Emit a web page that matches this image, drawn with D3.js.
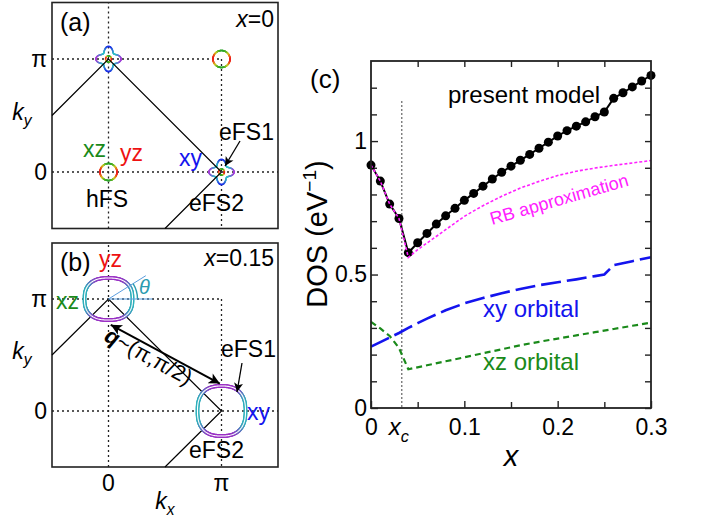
<!DOCTYPE html>
<html>
<head>
<meta charset="utf-8">
<script src="https://d3js.org/d3.v7.min.js"></script>
<style>
body { margin: 0; background: #fff; }
svg { font-family: "Liberation Sans", Arial, sans-serif; }
</style>
</head>
<body>
<svg id="fig" width="705" height="521"></svg>
<script>
// ---- panel (c) data ----
var xModel = [0, 0.01, 0.02, 0.03, 0.04, 0.05, 0.06, 0.07, 0.08, 0.09, 0.10, 0.11, 0.12, 0.13, 0.14, 0.15,
              0.16, 0.17, 0.18, 0.19, 0.20, 0.21, 0.22, 0.23, 0.24, 0.25, 0.26, 0.27, 0.28, 0.29, 0.30];
var dosModel = [0.910, 0.850, 0.764, 0.710, 0.582, 0.619, 0.654, 0.689, 0.720, 0.748, 0.778, 0.804, 0.831, 0.858, 0.883, 0.906,
                0.928, 0.950, 0.973, 0.996, 1.019, 1.039, 1.056, 1.072, 1.091, 1.109, 1.160, 1.181, 1.203, 1.225, 1.246];
var xRB = [0, 0.01, 0.02, 0.03, 0.04, 0.05, 0.06, 0.08, 0.10, 0.12, 0.14, 0.16, 0.18, 0.20, 0.22, 0.24, 0.26, 0.28, 0.30];
var dosRB = [0.910, 0.850, 0.764, 0.710, 0.564, 0.593, 0.618, 0.668, 0.718, 0.758, 0.793, 0.824, 0.849, 0.871, 0.887, 0.899, 0.909, 0.918, 0.927];
var xXY = [0, 0.01, 0.02, 0.03, 0.04, 0.05, 0.06, 0.08, 0.10, 0.12, 0.14, 0.16, 0.18, 0.20, 0.22, 0.24, 0.25, 0.26, 0.28, 0.30];
var dosXY = [0.230, 0.247, 0.264, 0.281, 0.300, 0.318, 0.335, 0.366, 0.392, 0.412, 0.430, 0.446, 0.460, 0.471, 0.482, 0.494, 0.500, 0.535, 0.550, 0.565];
var xXZ = [0, 0.01, 0.02, 0.03, 0.04, 0.06, 0.08, 0.10, 0.12, 0.14, 0.16, 0.18, 0.20, 0.22, 0.24, 0.26, 0.28, 0.30];
var dosXZ = [0.323, 0.298, 0.270, 0.225, 0.145, 0.160, 0.175, 0.190, 0.205, 0.220, 0.235, 0.248, 0.260, 0.272, 0.284, 0.296, 0.308, 0.320];
var xc = 0.033;
var xTicks = [0, 0.1, 0.2, 0.3];
var xMinor = [0.05, 0.15, 0.25];
var xTopTicks = [0.05, 0.1, 0.15, 0.2, 0.25];
var yTicks = [0, 0.5, 1];
var yMinor = [0.1, 0.2, 0.3, 0.4, 0.6, 0.7, 0.8, 0.9, 1.1, 1.2];

// ---- panels (a), (b): k-space in units of pi ----
var kTicks = [0, 1];
var kTickLabels = ["0", "π"];
var holeCentersA = [[0, 0], [1, 1]];
var elecCentersA = [[0, 1], [1, 0]];
var elecCentersB = [[0, 1], [1, 0]];
var zoneFold = [[-0.5, 0.5], [0, 1], [1, 0], [0.5, -0.5]];
var qArrow = [[0.02, 0.77], [0.985, 0.245]];

var svg = d3.select("#fig");
var fnt = '"Liberation Sans", Arial, sans-serif';

var defs = svg.append("defs");
function addHead(id, w, h) {
    defs.append("marker").attr("id", id)
        .attr("markerUnits", "userSpaceOnUse")
        .attr("viewBox", "0 0 10 10").attr("refX", 10).attr("refY", 5)
        .attr("markerWidth", w).attr("markerHeight", h)
        .attr("orient", "auto-start-reverse")
        .append("path").attr("d", "M0,0 L10,5 L0,10 L2.5,5 z").attr("fill", "#000");
}
addHead("headBig", 14, 11);
addHead("headSmall", 11, 9);

function label(g, x, y, txt, size, color, opts) {
    opts = opts || {};
    var t = g.append("text").attr("x", x).attr("y", y)
        .attr("font-size", size).attr("fill", color || "#000")
        .attr("text-anchor", opts.anchor || "start")
        .text(txt);
    if (opts.italic) t.attr("font-style", "italic");
    return t;
}

// variable with a subscript, e.g. k_y
function subLabel(g, x, y, main, sub, size, anchor) {
    var t = g.append("text").attr("x", x).attr("y", y)
        .attr("font-size", size).attr("font-style", "italic")
        .attr("text-anchor", anchor || "middle");
    t.append("tspan").text(main);
    t.append("tspan").attr("font-size", size * 0.68).attr("dy", size * 0.28).text(sub);
    return t;
}

// a closed curve drawn segment by segment so colour can follow the angle
function colorCurve(g, px, py, pointFn, colorFn, width, white) {
    var n = 160, pts = [];
    for (var i = 0; i <= n; i++) {
        var t = 2 * Math.PI * i / n;
        var p = pointFn(t);
        pts.push([px + p[0], py - p[1]]);
    }
    for (var j = 0; j < n; j++) {
        g.append("line")
            .attr("x1", pts[j][0]).attr("y1", pts[j][1])
            .attr("x2", pts[j + 1][0]).attr("y2", pts[j + 1][1])
            .attr("stroke", colorFn(2 * Math.PI * (j + 0.5) / n))
            .attr("stroke-width", width).attr("stroke-linecap", "round");
    }
    if (white) {
        g.append("path").attr("d", d3.line()(pts))
            .attr("fill", "none").attr("stroke", "#fff").attr("stroke-width", white);
    }
}

var redGreen = function(t) { var s = Math.sin(t); return d3.interpolateHsl("#ee1c1c", "#2aa52a")(s * s); };
var clover = function(t) {
    var s = Math.sin(t);
    var base = d3.interpolateRgb("#a83ad8", "#1c2ee8")(s * s);
    var d = Math.abs(Math.sin(2 * t));
    return d3.interpolateRgb(base, "#2cc4c4")(d * d);
};
var eBand = function(t) {
    var s = Math.sin(t), w = s * s;
    w = w * w * (3 - 2 * w);
    return d3.interpolateRgb("#2fb0bc", "#9a2fc4")(w);
};

function drawZone(g, kx, ky, showKx) {
    var dots = [
        [[0, -0.5], [0, 1.5]], [[1, 1], [1, -0.5]],
        [[-0.5, 0], [1.5, 0]], [[-0.5, 1], [1, 1]]
    ];
    dots.forEach(function(d) {
        g.append("line")
            .attr("x1", kx(d[0][0])).attr("y1", ky(d[0][1]))
            .attr("x2", kx(d[1][0])).attr("y2", ky(d[1][1]))
            .attr("stroke", "#222").attr("stroke-width", 1.3)
            .attr("stroke-dasharray", "2,3");
    });
    g.append("rect")
        .attr("x", kx(-0.5)).attr("y", ky(1.5))
        .attr("width", kx(1.5) - kx(-0.5)).attr("height", ky(-0.5) - ky(1.5))
        .attr("fill", "none").attr("stroke", "#222").attr("stroke-width", 1.6);
    kTicks.forEach(function(k, i) {
        label(g, kx(-0.5) - 5, ky(k) + 8, kTickLabels[i], 23, "#000", {anchor: "end"});
        if (showKx) label(g, kx(k), ky(-0.5) + 24, kTickLabels[i], 23, "#000", {anchor: "middle"});
    });
    subLabel(g, 22, ky(0.5) + 4, "k", "y", 23);
    if (showKx) subLabel(g, kx(0.5), ky(-0.5) + 42, "k", "x", 23);
}

function foldLines(g, kx, ky) {
    g.append("path")
        .attr("d", d3.line().x(d => kx(d[0])).y(d => ky(d[1]))(zoneFold))
        .attr("fill", "none").attr("stroke", "#000").attr("stroke-width", 1.2);
}

// ---------- panel (a) ----------
var kxA = d3.scaleLinear().domain([-0.5, 1.5]).range([52, 278]);
var kyA = d3.scaleLinear().domain([-0.5, 1.5]).range([228.5, 2.5]);
var ga = svg.append("g");
drawZone(ga, kxA, kyA, false);

holeCentersA.forEach(function(c) {
    colorCurve(ga, kxA(c[0]), kyA(c[1]), function(t) { return [8.5 * Math.cos(t), 8.5 * Math.sin(t)]; }, redGreen, 1.6);
});
elecCentersA.forEach(function(c) {
    colorCurve(ga, kxA(c[0]), kyA(c[1]), function(t) {
        var r = 10 + 2.6 * Math.cos(4 * t);
        return [r * Math.cos(t), r * Math.sin(t)];
    }, clover, 1.5);
    colorCurve(ga, kxA(c[0]), kyA(c[1]), function(t) { return [3 * Math.cos(t), 3 * Math.sin(t)]; }, redGreen, 1.2);
});
foldLines(ga, kxA, kyA);

label(ga, 60, 31, "(a)", 25);
var xa = ga.append("text").attr("x", 274).attr("y", 27).attr("font-size", 23).attr("text-anchor", "end");
xa.append("tspan").attr("font-style", "italic").text("x");
xa.append("tspan").text("=0");
label(ga, 83, 157, "xz", 23, "#1a8a1a");
label(ga, 120, 161, "yz", 23, "#ee1111");
label(ga, 179, 166, "xy", 23, "#1414ee");
label(ga, 86, 207, "hFS", 23);
label(ga, 189, 211, "eFS2", 23);
label(ga, 219, 140, "eFS1", 23);
ga.append("line").attr("x1", 240).attr("y1", 141).attr("x2", 225).attr("y2", 166)
    .attr("stroke", "#000").attr("stroke-width", 1.3).attr("marker-end", "url(#headSmall)");

// ---------- panel (b) ----------
var kyB = d3.scaleLinear().domain([-0.5, 1.5]).range([467, 243]);
var gb = svg.append("g");
drawZone(gb, kxA, kyB, true);
foldLines(gb, kxA, kyB);

var squircle = function(a, b) {
    return function(t) {
        var c = Math.cos(t), s = Math.sin(t);
        return [a * Math.sign(c) * Math.pow(Math.abs(c), 0.8), b * Math.sign(s) * Math.pow(Math.abs(s), 0.8)];
    };
};
colorCurve(gb, kxA(elecCentersB[0][0]), kyB(elecCentersB[0][1]), squircle(24, 21), eBand, 3.8, 1.1);
colorCurve(gb, kxA(elecCentersB[1][0]), kyB(elecCentersB[1][1]), squircle(24, 25), eBand, 3.8, 1.1);

// angle theta
var ox = kxA(0), oy = kyB(1);
var th = 32 * Math.PI / 180;
gb.append("line").attr("x1", ox).attr("y1", oy).attr("x2", ox + 44 * Math.cos(th)).attr("y2", oy - 44 * Math.sin(th))
    .attr("stroke", "#5b9ee0").attr("stroke-width", 1);
gb.append("line").attr("x1", ox).attr("y1", oy).attr("x2", ox + 44).attr("y2", oy)
    .attr("stroke", "#5b9ee0").attr("stroke-width", 1);
gb.append("path")
    .attr("d", d3.arc().innerRadius(29).outerRadius(29).startAngle(Math.PI / 2 - th).endAngle(Math.PI / 2)())
    .attr("transform", "translate(" + ox + "," + oy + ")")
    .attr("fill", "none").attr("stroke", "#2a9bb0").attr("stroke-width", 1.4);
label(gb, 139, 294, "θ", 20, "#2a9bb0", {italic: true});

gb.append("line")
    .attr("x1", kxA(qArrow[0][0])).attr("y1", kyB(qArrow[0][1]))
    .attr("x2", kxA(qArrow[1][0])).attr("y2", kyB(qArrow[1][1]))
    .attr("stroke", "#000").attr("stroke-width", 2)
    .attr("marker-start", "url(#headBig)").attr("marker-end", "url(#headBig)");
var qt = gb.append("text").attr("transform", "translate(103,340) rotate(28.5)").attr("font-size", 22);
qt.append("tspan").attr("font-weight", "bold").attr("font-style", "italic").text("q");
qt.append("tspan").text("~(π,π/2)");

gb.append("line").attr("x1", 242).attr("y1", 363).attr("x2", 237).attr("y2", 392)
    .attr("stroke", "#000").attr("stroke-width", 1.3).attr("marker-end", "url(#headSmall)");

label(gb, 60, 271, "(b)", 25);
label(gb, 99, 267, "yz", 23, "#ee1111");
label(gb, 56, 309, "xz", 23, "#1a8a1a");
var xb = gb.append("text").attr("x", 274).attr("y", 266).attr("font-size", 23).attr("text-anchor", "end");
xb.append("tspan").attr("font-style", "italic").text("x");
xb.append("tspan").text("=0.15");
label(gb, 221, 357, "eFS1", 23);
label(gb, 247, 420, "xy", 23, "#1414ee");
label(gb, 189, 458, "eFS2", 23);

// ---------- panel (c) ----------
var cx = d3.scaleLinear().domain([0, 0.3]).range([371, 651]);
var cy = d3.scaleLinear().domain([0, 1.3]).range([408, 61]);
var gc = svg.append("g");

function styleAxis(sel) {
    sel.attr("font-family", fnt).attr("font-size", 23);
    sel.select(".domain").remove();
    sel.selectAll(".tick line").attr("stroke", "#222").attr("stroke-width", 1.4);
}
gc.append("g").attr("transform", "translate(0,408)")
    .call(d3.axisBottom(cx).tickValues(xTicks).tickSize(-7).tickPadding(11).tickFormat(d3.format("")))
    .call(styleAxis);
gc.append("g").attr("transform", "translate(0,408)")
    .call(d3.axisBottom(cx).tickValues(xMinor).tickSize(-6).tickFormat(""))
    .call(styleAxis);
gc.append("g").attr("transform", "translate(0,61)")
    .call(d3.axisTop(cx).tickValues(xTopTicks).tickSize(-6).tickFormat(""))
    .call(styleAxis);
gc.append("g").attr("transform", "translate(371,0)")
    .call(d3.axisLeft(cy).tickValues(yTicks).tickSize(-7).tickPadding(4).tickFormat(d3.format("")))
    .call(styleAxis);
gc.append("g").attr("transform", "translate(371,0)")
    .call(d3.axisLeft(cy).tickValues(yMinor).tickSize(-6).tickFormat(""))
    .call(styleAxis);
gc.append("g").attr("transform", "translate(651,0)")
    .call(d3.axisRight(cy).tickValues(yTicks.concat(yMinor)).tickSize(-6).tickFormat(""))
    .call(styleAxis);

gc.append("line").attr("x1", cx(xc)).attr("x2", cx(xc)).attr("y1", cy(1.15)).attr("y2", cy(0))
    .attr("stroke", "#555").attr("stroke-width", 1.1).attr("stroke-dasharray", "2,2");

function series(xs, ys) { return xs.map(function(x, i) { return [cx(x), cy(ys[i])]; }); }
var line = d3.line();

gc.append("path").attr("d", line(series(xXZ, dosXZ)))
    .attr("fill", "none").attr("stroke", "#1a8a1a").attr("stroke-width", 2.2).attr("stroke-dasharray", "6,4");
gc.append("path").attr("d", line(series(xXY, dosXY)))
    .attr("fill", "none").attr("stroke", "#1414ee").attr("stroke-width", 2.6).attr("stroke-dasharray", "20,6");
gc.append("path").attr("d", line(series(xModel, dosModel)))
    .attr("fill", "none").attr("stroke", "#000").attr("stroke-width", 2);
gc.selectAll("circle.pt").data(series(xModel, dosModel)).join("circle")
    .attr("class", "pt").attr("cx", d => d[0]).attr("cy", d => d[1]).attr("r", 4.5).attr("fill", "#000");
gc.append("path").attr("d", line(series(xRB, dosRB)))
    .attr("fill", "none").attr("stroke", "#ff20ff").attr("stroke-width", 1.6).attr("stroke-dasharray", "3,2");

gc.append("rect").attr("x", 371).attr("y", 61).attr("width", 280).attr("height", 347)
    .attr("fill", "none").attr("stroke", "#222").attr("stroke-width", 1.8);

subLabel(gc, cx(xc) - 3, 435, "x", "c", 24);
label(gc, 310, 88, "(c)", 26);
label(gc, 448, 103, "present model", 24);
label(gc, 483, 317, "xy orbital", 24, "#1414ee");
label(gc, 483, 370, "xz orbital", 24, "#1a8a1a");
label(gc, 0, 0, "RB approximation", 18, "#ff20ff").attr("transform", "translate(492,225) rotate(-16)");
label(gc, cx(0.15), 466, "x", 29, "#000", {anchor: "middle", italic: true});

var yl = gc.append("text").attr("transform", "translate(327,234) rotate(-90)")
    .attr("font-size", 29).attr("text-anchor", "middle");
yl.append("tspan").text("DOS (eV");
yl.append("tspan").attr("font-size", 19).attr("dy", -11).text("−1");
yl.append("tspan").attr("dy", 11).text(")");
</script>
</body>
</html>
